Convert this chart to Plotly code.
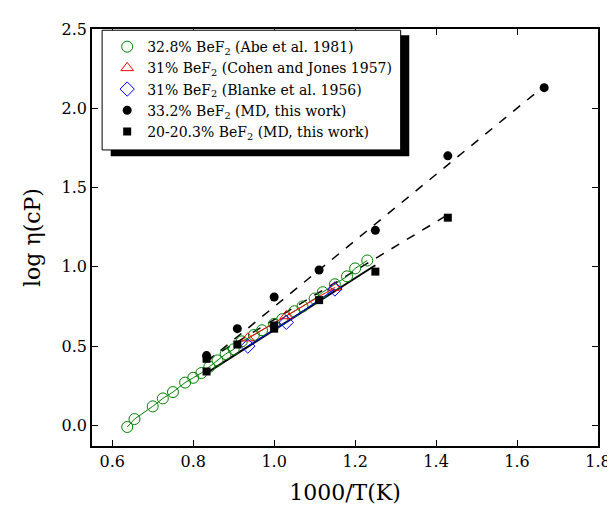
import plotly.graph_objects as go

abe_x = [0.637, 0.655, 0.70, 0.725, 0.75, 0.78, 0.80, 0.82, 0.84, 0.86, 0.88, 0.90, 0.92,
         0.95, 0.97, 1.0, 1.02, 1.05, 1.07, 1.10, 1.12, 1.15, 1.18, 1.20, 1.23]
abe_y = [-0.01, 0.04, 0.12, 0.17, 0.21, 0.27, 0.30, 0.33, 0.37, 0.41, 0.45, 0.48, 0.53,
         0.57, 0.60, 0.64, 0.67, 0.72, 0.75, 0.80, 0.84, 0.89, 0.94, 0.99, 1.04]
cohen_x = [0.935, 1.03, 1.15]
cohen_y = [0.55, 0.69, 0.87]
blanke_x = [0.935, 1.03, 1.15]
blanke_y = [0.50, 0.65, 0.86]
md33_x = [0.833, 0.909, 1.0, 1.111, 1.25, 1.429, 1.667]
md33_y = [0.44, 0.61, 0.81, 0.98, 1.23, 1.70, 2.13]
md20_x = [0.833, 0.833, 0.909, 1.0, 1.0, 1.111, 1.25, 1.429]
md20_y = [0.34, 0.42, 0.51, 0.61, 0.63, 0.79, 0.97, 1.31]
fit33_x = [0.833, 1.667]
fit33_y = [0.40, 2.14]
fit20_x = [0.833, 1.43]
fit20_y = [0.41, 1.33]
solid_x = [0.833, 1.25]
solid_y = [0.33, 1.01]

FONT = "DejaVu Serif"
fig = go.Figure()
fig.add_trace(go.Scatter(x=fit33_x, y=fit33_y, mode="lines", line=dict(color="black", dash="dash", width=1.5), showlegend=False))
fig.add_trace(go.Scatter(x=fit20_x, y=fit20_y, mode="lines", line=dict(color="black", dash="dash", width=1.5), showlegend=False))
fig.add_trace(go.Scatter(x=solid_x, y=solid_y, mode="lines", line=dict(color="black", width=2), showlegend=False))

series = [
    (abe_x, abe_y, "green", "circle-open", 11, True, "32.8% BeF<sub>2</sub> (Abe et al. 1981)"),
    (cohen_x, cohen_y, "red", "triangle-up-open", 11, True, "31% BeF<sub>2</sub> (Cohen and Jones 1957)"),
    (blanke_x, blanke_y, "blue", "diamond-open", 11, True, "31% BeF<sub>2</sub> (Blanke et al. 1956)"),
    (md33_x, md33_y, "black", "circle", 9, False, "33.2% BeF<sub>2</sub> (MD, this work)"),
    (md20_x, md20_y, "black", "square", 8, False, "20-20.3% BeF<sub>2</sub> (MD, this work)"),
]
for x, y, c, sym, sz, connect, name in series:
    fig.add_trace(go.Scatter(x=x, y=y, mode="lines+markers" if connect else "markers",
                             line=dict(color=c, width=1), marker=dict(symbol=sym, size=sz, color=c),
                             showlegend=False))
for x, y, c, sym, sz, connect, name in series:
    fig.add_trace(go.Scatter(x=[None], y=[None], mode="markers", name=name,
                             marker=dict(symbol=sym, size=sz, color=c)))

# legend box with shadow
fig.add_shape(type="rect", xref="paper", yref="paper", x0=0.037, x1=0.627, y0=0.695, y1=0.985,
              fillcolor="black", line=dict(width=0), layer="above")
fig.add_shape(type="rect", xref="paper", yref="paper", x0=0.02, x1=0.61, y0=0.71, y1=0.997,
              fillcolor="white", line=dict(color="black", width=1), layer="above")

ax = dict(showline=True, linecolor="black", linewidth=1.5, mirror="ticks", ticks="inside",
          ticklen=6, tickcolor="black", showgrid=False, zeroline=False,
          tickfont=dict(family=FONT, size=16, color="black"),
          title_font=dict(family=FONT, size=22, color="black"))
fig.update_xaxes(ax, range=[0.55, 1.8], dtick=0.2, tick0=0.6, tickformat=".1f", title_text="1000/T(K)")
fig.update_yaxes(ax, range=[-0.13, 2.5], dtick=0.5, tickformat=".1f", title_text="log η(cP)")
fig.update_layout(
    width=615, height=505, plot_bgcolor="white", paper_bgcolor="white",
    margin=dict(l=84, r=17, t=20, b=65),
    legend=dict(x=0.03, y=0.995, xanchor="left", yanchor="top", bgcolor="rgba(0,0,0,0)",
                font=dict(family=FONT, size=14, color="black"), tracegroupgap=0, itemwidth=30),
)
fig.write_html("out.html")
